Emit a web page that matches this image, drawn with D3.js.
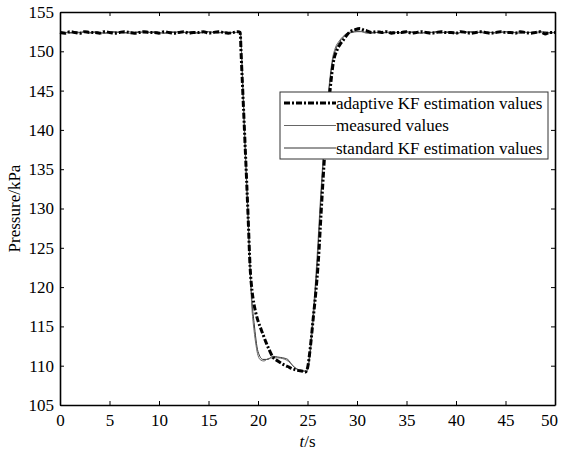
<!DOCTYPE html>
<html>
<head>
<meta charset="utf-8">
<script src="https://cdn.jsdelivr.net/npm/d3@7"></script>
<style>
  body { margin: 0; background: #fff; }
  svg { display: block; }
  text { font-family: "Liberation Serif", "Times New Roman", "DejaVu Serif", serif; fill: #000; }
</style>
</head>
<body>
<svg id="chart"></svg>
<script>
// time grids shared by the flat parts (s)
let headT = [0,0.5,1,1.5,2,2.5,3,3.5,4,4.5,5,5.5,6,6.5,7,7.5,8,8.5,9,9.5,10,10.5,11,11.5,12,12.5,13,13.5,14,14.5,15,15.5,16,16.5,17,17.5,18];
let tailT = [32.5,33,33.5,34,34.5,35,35.5,36,36.5,37,37.5,38,38.5,39,39.5,40,40.5,41,41.5,42,42.5,43,43.5,44,44.5,45,45.5,46,46.5,47,47.5,48,48.5,49,49.5,50];

// adaptive KF estimation values (kPa)
let adaptiveHead = [152.4,152.3,152.5,152.4,152.3,152.5,152.4,152.4,152.3,152.5,152.4,152.3,152.4,152.5,152.4,152.3,152.4,152.5,152.4,152.4,152.3,152.5,152.4,152.3,152.4,152.5,152.3,152.4,152.4,152.5,152.3,152.4,152.5,152.4,152.3,152.4,152.5];
let adaptiveMidT = [18.2,18.3,18.5,18.7,19,19.2,19.4,19.6,19.8,20,20.2,20.5,20.8,21,21.5,22,22.5,23,23.5,24,24.5,24.8,25,25.3,25.6,25.8,26.1,26.4,26.7,27,27.3,27.6,28,28.3,28.6,29,29.3,29.7,30.3,30.7,31,31.5,32];
let adaptiveMidP = [152.4,149.5,143.8,138,129,122.6,119.5,117.8,116.6,115.7,115,114,113,112.4,111.1,110.6,110.2,109.9,109.6,109.4,109.3,109.2,109.7,112.5,116.3,118.8,123.4,130,136.2,141.2,145.3,148.5,150.2,150.9,151.4,152.1,152.5,152.7,152.9,152.7,152.6,152.4,152.5];
let adaptiveTail = [152.4,152.5,152.3,152.4,152.4,152.5,152.3,152.4,152.5,152.4,152.3,152.4,152.5,152.4,152.4,152.3,152.5,152.4,152.3,152.4,152.5,152.4,152.3,152.4,152.5,152.4,152.4,152.3,152.5,152.4,152.3,152.4,152.5,152.2,152.4,152.4];

// measured values (kPa)
let measuredHead = [152.5,152.4,152.3,152.5,152.4,152.4,152.3,152.5,152.4,152.3,152.5,152.4,152.4,152.3,152.5,152.4,152.5,152.3,152.4,152.5,152.4,152.3,152.4,152.5,152.3,152.4,152.5,152.4,152.3,152.4,152.5,152.4,152.3,152.5,152.4,152.4,152.4];
let measuredMidT = [18.2,18.5,18.7,19,19.2,19.4,19.6,19.8,20,20.3,20.6,21,21.5,22,22.5,22.9,23.3,23.7,24.2,24.6,24.9,25.2,25.5,25.7,26,26.3,26.6,26.9,27.2,27.5,27.8,28.2,28.6,29,29.5,30,30.5,31,31.5,32];
let measuredMidP = [152.4,144,137.5,128.5,122,117.1,114.5,112.6,111.3,110.7,110.6,110.9,111,111,110.9,110.7,110.3,109.8,109.45,109.3,109.4,111.5,115.8,118.8,124.5,131,136.8,141.8,145.8,148.9,150.4,151.3,151.9,152.3,152.5,152.6,152.5,152.3,152.3,152.4];
let measuredTail = [152.3,152.4,152.5,152.4,152.3,152.4,152.5,152.4,152.3,152.5,152.4,152.4,152.3,152.5,152.4,152.3,152.4,152.5,152.4,152.3,152.5,152.4,152.4,152.3,152.4,152.5,152.3,152.4,152.5,152.4,152.4,152.3,152.4,152.5,152.3,152.4];

// standard KF estimation values (kPa)
let standardHead = [152.4,152.4,152.4,152.3,152.4,152.5,152.4,152.4,152.4,152.3,152.4,152.5,152.4,152.4,152.3,152.4,152.4,152.5,152.4,152.4,152.4,152.3,152.4,152.4,152.5,152.4,152.4,152.3,152.4,152.4,152.5,152.4,152.4,152.4,152.3,152.4,152.4];
let standardMidT = [18.2,18.5,18.7,19,19.2,19.4,19.6,20,20.5,21,21.5,22,22.5,23,23.5,24,24.5,24.9,25.2,25.5,25.7,26,26.3,26.6,26.9,27.2,27.5,27.8,28.2,28.6,29,29.5,30,30.5,31,31.5,32];
let standardMidP = [152.4,144.5,138,129,122.5,118,115.5,111.8,110.8,110.8,111.2,111.1,111,110.8,110,109.5,109.3,109.3,110.8,114.8,117.8,123.5,130.2,136.3,141.3,145.4,148.5,150.1,151.1,151.8,152.2,152.4,152.5,152.5,152.4,152.4,152.4];
let standardTail = [152.4,152.4,152.3,152.4,152.4,152.5,152.4,152.4,152.3,152.4,152.4,152.5,152.4,152.4,152.4,152.3,152.4,152.4,152.5,152.4,152.4,152.3,152.4,152.4,152.4,152.5,152.4,152.4,152.3,152.4,152.4,152.4,152.5,152.4,152.4,152.4];

let xTicks = [0,5,10,15,20,25,30,35,40,45,50];
let yTicks = [105,110,115,120,125,130,135,140,145,150,155];
let legendLabels = ["adaptive KF estimation values", "measured values", "standard KF estimation values"];

let serif = "'Liberation Serif', 'Times New Roman', 'DejaVu Serif', serif";

let width = 562;
let height = 454;
let margin = { top: 12, right: 7, bottom: 49, left: 60 };

let svg = d3.select("#chart").attr("width", width).attr("height", height);

let xScale = d3.scaleLinear().domain([0, 50]).range([margin.left, width - margin.right]);
let yScale = d3.scaleLinear().domain([105, 155]).range([height - margin.bottom, margin.top]);

let toPoints = (head, midT, midP, tail) => {
  let t = headT.concat(midT, tailT);
  let p = head.concat(midP, tail);
  return t.map((d, i) => [d, p[i]]);
};

let adaptive = toPoints(adaptiveHead, adaptiveMidT, adaptiveMidP, adaptiveTail);
let measured = toPoints(measuredHead, measuredMidT, measuredMidP, measuredTail);
let standard = toPoints(standardHead, standardMidT, standardMidP, standardTail);

let line = d3.line().curve(d3.curveMonotoneX).x(d => xScale(d[0])).y(d => yScale(d[1]));

// series: thin ones first, thick dash-dot on top
svg.append("path").datum(standard)
  .attr("d", line).attr("fill", "none")
  .attr("stroke", "#333").attr("stroke-width", 1);
svg.append("path").datum(measured)
  .attr("d", line).attr("fill", "none")
  .attr("stroke", "#666").attr("stroke-width", 1);
svg.append("path").datum(adaptive)
  .attr("d", line).attr("fill", "none")
  .attr("stroke", "#000").attr("stroke-width", 3)
  .attr("stroke-dasharray", "6,2,2,2");

// axes, ticks pointing inwards on all four sides
let plotH = height - margin.top - margin.bottom;
let plotW = width - margin.left - margin.right;

let xAxis = svg.append("g")
  .attr("transform", "translate(0," + (height - margin.bottom) + ")")
  .call(d3.axisBottom(xScale).tickValues(xTicks).tickSizeInner(-4).tickSizeOuter(0).tickPadding(9));
let yAxis = svg.append("g")
  .attr("transform", "translate(" + margin.left + ",0)")
  .call(d3.axisLeft(yScale).tickValues(yTicks).tickSizeInner(-4).tickSizeOuter(0).tickPadding(6));
let topAxis = svg.append("g")
  .attr("transform", "translate(0," + margin.top + ")")
  .call(d3.axisTop(xScale).tickValues(xTicks).tickSizeInner(-4).tickSizeOuter(0).tickFormat(""));
let rightAxis = svg.append("g")
  .attr("transform", "translate(" + (width - margin.right) + ",0)")
  .call(d3.axisRight(yScale).tickValues(yTicks).tickSizeInner(-4).tickSizeOuter(0).tickFormat(""));

[xAxis, yAxis, topAxis, rightAxis].forEach(g => {
  g.attr("font-family", serif).attr("font-size", 17);
  g.select(".domain").attr("stroke", "#000").attr("stroke-width", 1.6);
  g.selectAll(".tick line").attr("stroke", "#000").attr("stroke-width", 1);
  g.selectAll(".tick text").attr("fill", "#000");
});

// the last x label sits a little left of its tick, as in the original
xAxis.selectAll(".tick text").filter(d => d === 50).attr("dx", -6);

// axis titles
svg.append("text")
  .attr("transform", "translate(20," + (margin.top + plotH / 2) + ") rotate(-90)")
  .attr("text-anchor", "middle")
  .attr("font-family", serif)
  .attr("font-size", 17)
  .text("Pressure/kPa");

let xTitle = svg.append("text")
  .attr("x", margin.left + plotW / 2)
  .attr("y", 447)
  .attr("text-anchor", "middle")
  .attr("font-family", serif)
  .attr("font-size", 17);
xTitle.append("tspan").attr("font-style", "italic").text("t");
xTitle.append("tspan").text("/s");

// legend
let legend = svg.append("g").attr("transform", "translate(280,92)");
legend.append("rect")
  .attr("width", 268).attr("height", 67)
  .attr("fill", "#fff").attr("stroke", "#333").attr("stroke-width", 1);

let legendStyles = [
  { stroke: "#000", width: 3, dash: "6,2,2,2" },
  { stroke: "#666", width: 1, dash: null },
  { stroke: "#333", width: 1, dash: null }
];

legendLabels.forEach((label, i) => {
  let y = 11 + i * 22.5;
  legend.append("line")
    .attr("x1", 4).attr("x2", 56).attr("y1", y).attr("y2", y)
    .attr("stroke", legendStyles[i].stroke)
    .attr("stroke-width", legendStyles[i].width)
    .attr("stroke-dasharray", legendStyles[i].dash);
  legend.append("text")
    .attr("x", 56).attr("y", y)
    .attr("dy", "0.35em")
    .attr("font-family", serif)
    .attr("font-size", 17)
    .text(label);
});
</script>
</body>
</html>
